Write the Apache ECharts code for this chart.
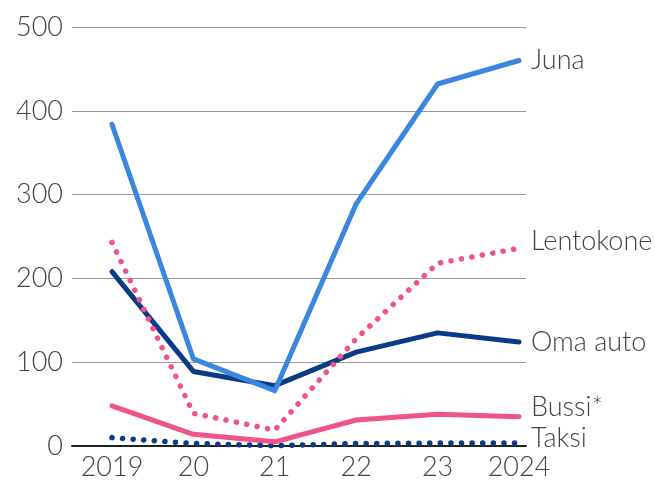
<!DOCTYPE html>
<html>
<head>
<meta charset="utf-8">
<script src="https://cdn.jsdelivr.net/npm/echarts@6/dist/echarts.min.js"></script>
<style>html,body{margin:0;padding:0;background:#fff}#c{width:655px;height:481px}</style>
</head>
<body>
<div id="c"></div>
<script>
const categories = ['2019', '20', '21', '22', '23', '2024'];
const yTicks = [0, 100, 200, 300, 400, 500];
const juna = [384, 104, 66, 289, 432, 460];
const lentokone = [243, 39, 19, 128, 218, 236];
const omaAuto = [208, 89, 72, 112, 135, 124];
const bussi = [48, 14, 5, 31, 38, 35];
const taksi = [10, 3, 0.3, 3, 3.5, 3.5];

const FONT = 'Lato';
const TXT = '#444';
function pts(arr) { return arr.map((v, i) => [i, v]); }
function mk(name, data, color, dotted, width, off, z) {
  return {
    name, type: 'line', data: pts(data), symbol: 'none', z: z,
    lineStyle: dotted
      ? { color, width: 5.5, type: [0.1, 10.5], cap: 'round' }
      : { color, width: width, cap: 'round', join: 'round' },
    endLabel: { show: true, formatter: name, color: TXT, fontFamily: FONT, fontSize: 27, fontWeight: 300, distance: 12, offset: off },
    animation: false
  };
}
const chart = echarts.init(document.getElementById('c'));
chart.setOption({
  animation: false,
  grid: { left: 72, right: 129, top: 27, bottom: 31.5, containLabel: false },
  xAxis: {
    type: 'value', min: -0.491, max: 5.086,
    splitLine: { show: false },
    axisLine: { show: true, onZero: false, lineStyle: { color: '#222', width: 2 } },
    axisTick: { show: false },
    axisLabel: {
      customValues: categories.map((c, i) => i),
      formatter: v => categories[Math.round(v)] ?? '',
      color: TXT, fontFamily: FONT, fontSize: 27, fontWeight: 300, margin: 8
    }
  },
  yAxis: {
    type: 'value', min: 0, max: 500, interval: 100,
    axisLine: { show: false }, axisTick: { show: false },
    splitLine: { lineStyle: { color: '#999', width: 1.2 } },
    axisLabel: {
      customValues: yTicks,
      color: TXT, fontFamily: FONT, fontSize: 27, fontWeight: 300, margin: 9
    }
  },
  series: [
    mk('Taksi', taksi, '#0b3a86', true, 5, [0, -5], 2),
    mk('Bussi*', bussi, '#ef538a', false, 5, [0, -9], 3),
    mk('Oma auto', omaAuto, '#0b3a86', false, 5, [0, 0], 4),
    mk('Lentokone', lentokone, '#ef538a', true, 5, [0, -7], 5),
    mk('Juna', juna, '#3b86df', false, 5, [0, 0], 6)
  ]
});
</script>
</body>
</html>
